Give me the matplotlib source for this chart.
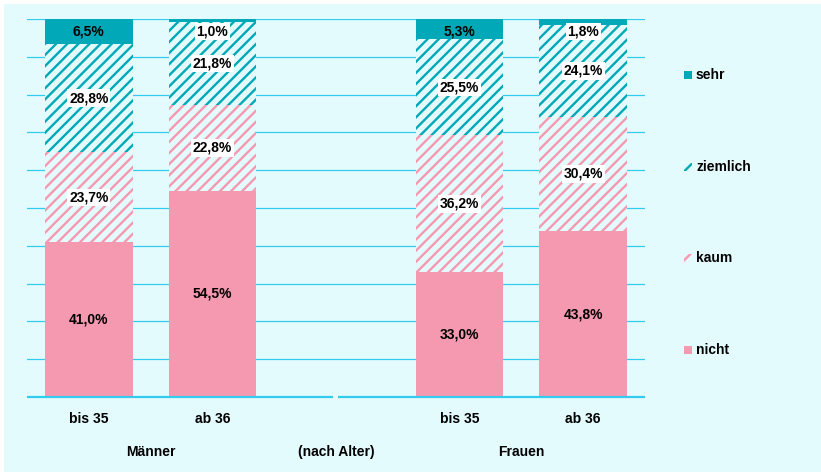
import matplotlib.pyplot as plt
from matplotlib.patches import Rectangle
import numpy as np

plt.rcParams['font.family'] = ['Liberation Sans', 'DejaVu Sans']
plt.rcParams['hatch.linewidth'] = 1.7

groups = ["bis 35", "ab 36", "bis 35", "ab 36"]
positions = [0, 1, 3, 4]
categories = ["nicht", "kaum", "ziemlich", "sehr"]
nicht = [41.0, 54.5, 33.0, 43.8]
kaum = [23.7, 22.8, 36.2, 30.4]
ziemlich = [28.8, 21.8, 25.5, 24.1]
sehr = [6.5, 1.0, 5.3, 1.8]
group_labels = ["Männer", "(nach Alter)", "Frauen"]
group_pos = [0.5, 2.0, 3.5]

teal = "#00A8B8"
pink = "#F599B0"
bg = "#E4FBFD"
grid = "#33CCEE"
fs = 10

styles = {
    "nicht": dict(color=pink, hatch=None),
    "kaum": dict(color=pink, hatch="///"),
    "ziemlich": dict(color=teal, hatch="///"),
    "sehr": dict(color=teal, hatch=None),
}

fig = plt.figure(figsize=(8.21, 4.72), dpi=100, facecolor="white")
fig.patches.append(Rectangle((4 / 821, 0), 1, 1 - 4 / 472, transform=fig.transFigure,
                             facecolor=bg, edgecolor="none", zorder=-10))
ax = fig.add_axes([27 / 821, 75 / 472, 618 / 821, 378 / 472])
ax.patch.set_alpha(0)

for y in range(10, 101, 10):
    ax.axhline(y, color=grid, lw=0.9, zorder=0)

series = [nicht, kaum, ziemlich, sehr]
bottom = np.zeros(len(positions))
for name, vals in zip(categories, series):
    st = styles[name]
    vals = np.array(vals)
    if st["hatch"]:
        ax.bar(positions, vals, 0.71, bottom=bottom, facecolor=bg,
               edgecolor=st["color"], hatch=st["hatch"], linewidth=0, zorder=2)
    else:
        ax.bar(positions, vals, 0.71, bottom=bottom, color=st["color"],
               linewidth=0, zorder=2)
    for x, b, v in zip(positions, bottom, vals):
        yc = min(b + v / 2, 96.7)
        ax.text(x, yc, f"{v:.1f}%".replace(".", ","), ha="center", va="center",
                fontsize=fs, fontweight="bold", zorder=5,
                bbox=dict(boxstyle="square,pad=0.12", facecolor="white",
                          edgecolor="none") if st["hatch"] or v < 2 else None)
    bottom += vals

# broken baseline
ax.plot([-0.5, 1.975], [0, 0], color=grid, lw=1.6, clip_on=False, zorder=3,
        solid_capstyle="butt")
ax.plot([2.015, 4.5], [0, 0], color=grid, lw=1.6, clip_on=False, zorder=3,
        solid_capstyle="butt")

ax.set_xlim(-0.5, 4.5)
ax.set_ylim(0, 100)
for s in ax.spines.values():
    s.set_visible(False)
ax.set_yticks([])
ax.set_xticks(positions)
ax.set_xticklabels(groups, fontsize=fs, fontweight="bold")
ax.tick_params(axis="x", length=0, pad=11)

for gp, gl in zip(group_pos, group_labels):
    ax.text(gp, -14.5, gl, ha="center", va="center", fontsize=fs,
            fontweight="bold", transform=ax.transData)

# legend
leg_y = [350, 258, 167, 75]
for name, ly in zip(categories, leg_y):
    st = styles[name]
    x0, y0 = 684 / 821, 1 - (ly + 4) / 472
    w, h = 8 / 821, 8 / 472
    if st["hatch"]:
        r = Rectangle((x0, y0), w, h, transform=fig.transFigure, facecolor=bg,
                      edgecolor=st["color"], hatch="///", linewidth=0)
    else:
        r = Rectangle((x0, y0), w, h, transform=fig.transFigure,
                      facecolor=st["color"], edgecolor="none")
    fig.patches.append(r)
    fig.text(696 / 821, 1 - ly / 472, name, ha="left", va="center",
             fontsize=fs, fontweight="bold")

fig.savefig("out.png", dpi=100, facecolor=fig.get_facecolor())
